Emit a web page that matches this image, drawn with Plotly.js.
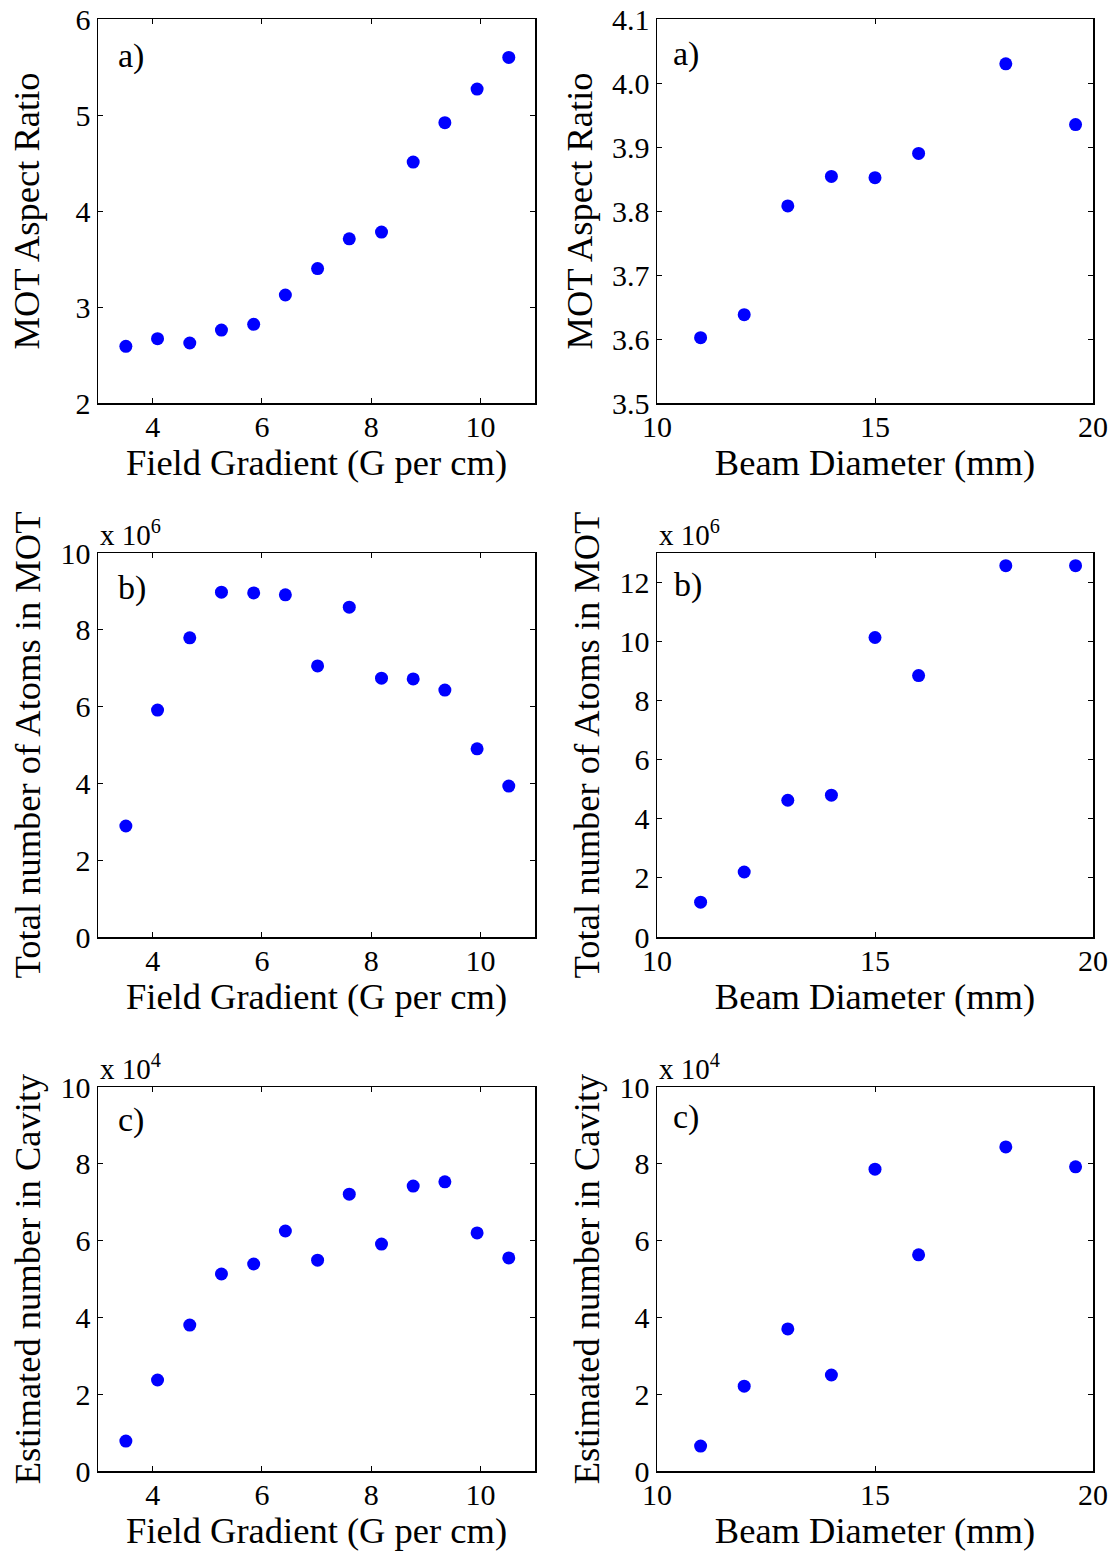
<!DOCTYPE html>
<html>
<head>
<meta charset="utf-8">
<script src="https://cdn.plot.ly/plotly-3.0.1.min.js"></script>
<style>html,body{margin:0;padding:0;background:#fff;}#chart{width:1117px;height:1552px;}</style>
</head>
<body>
<div id="chart"></div>
<script>
// Field gradient series (G per cm)
const fieldGradient = [3.51, 4.09, 4.68, 5.26, 5.85, 6.43, 7.02, 7.60, 8.19, 8.77, 9.35, 9.94, 10.52];
const aspectRatioVsGradient = [2.59, 2.67, 2.625, 2.76, 2.82, 3.125, 3.40, 3.71, 3.78, 4.51, 4.92, 5.27, 5.60];
const atomsMOTVsGradient_e6 = [2.89, 5.91, 7.79, 8.98, 8.96, 8.91, 7.06, 8.59, 6.74, 6.72, 6.43, 4.90, 3.93];
const cavityVsGradient_e4 = [0.78, 2.37, 3.80, 5.13, 5.39, 6.25, 5.49, 7.21, 5.91, 7.42, 7.53, 6.20, 5.55];

// Beam diameter series (mm)
const beamDiameter = [11, 12, 13, 14, 15, 16, 18, 19.6];
const aspectRatioVsBeam = [3.602, 3.638, 3.808, 3.854, 3.852, 3.890, 4.030, 3.935];
const atomsMOTVsBeam_e6 = [1.18, 2.20, 4.63, 4.80, 10.14, 8.85, 12.57, 12.57];
const cavityVsBeam_e4 = [0.65, 2.21, 3.70, 2.50, 7.86, 5.63, 8.44, 7.92];

// Labels
const xTitleLeft = "Field Gradient (G per cm)";
const xTitleRight = "Beam Diameter (mm)";
const yTitles = ["MOT Aspect Ratio", "Total number of Atoms in MOT", "Estimated number in Cavity"];
const panelLabels = ["a)", "b)", "c)"];
const multipliers = [null, "x 10<sup>6</sup>", "x 10<sup>4</sup>"];

const FONT = "Liberation Serif";
const W = 1117, H = 1552;
const colL = [98 / W, 535 / W];
const colR = [657 / W, 1093 / W];
const rows = [[19, 403], [553, 937], [1087, 1471]].map(r => [1 - r[1] / H, 1 - r[0] / H]);

const marker = {color: "#0000ff", size: 13};
const traces = [
  {x: fieldGradient, y: aspectRatioVsGradient, xaxis: "x", yaxis: "y"},
  {x: beamDiameter, y: aspectRatioVsBeam, xaxis: "x2", yaxis: "y2"},
  {x: fieldGradient, y: atomsMOTVsGradient_e6, xaxis: "x3", yaxis: "y3"},
  {x: beamDiameter, y: atomsMOTVsBeam_e6, xaxis: "x4", yaxis: "y4"},
  {x: fieldGradient, y: cavityVsGradient_e4, xaxis: "x5", yaxis: "y5"},
  {x: beamDiameter, y: cavityVsBeam_e4, xaxis: "x6", yaxis: "y6"}
].map(t => Object.assign(t, {type: "scatter", mode: "markers", marker: marker, showlegend: false, hoverinfo: "x+y"}));

const TICK = 30, TITLE = 36.5, LBL = 34, MULT = 29;

function axBase() {
  return {
    showline: true, linecolor: "#000", linewidth: 1.5, mirror: "allticks",
    ticks: "inside", ticklen: 5, tickwidth: 1, tickcolor: "#000",
    showgrid: false, zeroline: false,
    tickfont: {family: FONT, size: TICK, color: "#000"},
    automargin: false
  };
}

const layout = {
  width: W, height: H,
  margin: {l: 0, r: 0, t: 0, b: 0},
  paper_bgcolor: "#fff", plot_bgcolor: "#fff",
  font: {family: FONT, color: "#000"},
  annotations: []
};

const yRanges = [[[2, 6], 1, null], [[0, 10], 2, null], [[0, 10], 2, null]];
const yRangesR = [[[3.5, 4.1], 0.1, ".1f"], [[0, 13], 2, null], [[0, 10], 2, null]];
const yStandoffL = [24, 8, 8];
const yStandoffR = [8, 8, 8];

for (let r = 0; r < 3; r++) {
  const iL = 2 * r + 1, iR = 2 * r + 2;
  const kxL = iL === 1 ? "xaxis" : "xaxis" + iL;
  const kyL = iL === 1 ? "yaxis" : "yaxis" + iL;
  const kxR = "xaxis" + iR, kyR = "yaxis" + iR;
  const yL = iL === 1 ? "y" : "y" + iL;
  const yR = "y" + iR;

  layout[kxL] = Object.assign(axBase(), {domain: colL, range: [3, 11], tickvals: [4, 6, 8, 10], anchor: yL,
    ticklabelstandoff: -4,
    title: {text: xTitleLeft, font: {family: FONT, size: TITLE, color: "#000"}, standoff: 2}});
  layout[kxR] = Object.assign(axBase(), {domain: colR, range: [10, 20], dtick: 5, tick0: 10, anchor: yR,
    ticklabelstandoff: -4,
    title: {text: xTitleRight, font: {family: FONT, size: TITLE, color: "#000"}, standoff: 2}});
  const yl = yRanges[r], yr = yRangesR[r];
  layout[kyL] = Object.assign(axBase(), {domain: rows[r], range: yl[0], dtick: yl[1], tick0: 0,
    anchor: iL === 1 ? "x" : "x" + iL,
    title: {text: yTitles[r], font: {family: FONT, size: TITLE, color: "#000"}, standoff: yStandoffL[r]}});
  layout[kyR] = Object.assign(axBase(), {domain: rows[r], range: yr[0], dtick: yr[1], tick0: 0,
    anchor: "x" + iR,
    title: {text: yTitles[r], font: {family: FONT, size: TITLE, color: "#000"}, standoff: yStandoffR[r]}});
  if (yr[2]) layout[kyR].tickformat = yr[2];

  const axL = iL === 1 ? "x" : "x" + iL;
  const lblPos = [[0.041, 0.903, 0.032, 0.908], [0.041, 0.909, 0.034, 0.917], [0.041, 0.914, 0.032, 0.922]][r];
  layout.annotations.push(
    {xref: axL + " domain", yref: yL + " domain", x: lblPos[0], y: lblPos[1], xanchor: "left", yanchor: "middle",
     text: panelLabels[r], showarrow: false, font: {family: FONT, size: LBL, color: "#000"}},
    {xref: "x" + iR + " domain", yref: yR + " domain", x: lblPos[2], y: lblPos[3], xanchor: "left", yanchor: "middle",
     text: panelLabels[r], showarrow: false, font: {family: FONT, size: LBL, color: "#000"}}
  );
  if (multipliers[r]) {
    layout.annotations.push(
      {xref: axL + " domain", yref: yL + " domain", x: 0, y: 1, xanchor: "left", yanchor: "bottom", yshift: 0,
       text: multipliers[r], showarrow: false, font: {family: FONT, size: MULT, color: "#000"}},
      {xref: "x" + iR + " domain", yref: yR + " domain", x: 0, y: 1, xanchor: "left", yanchor: "bottom", yshift: 0,
       text: multipliers[r], showarrow: false, font: {family: FONT, size: MULT, color: "#000"}}
    );
  }
}

Plotly.newPlot("chart", traces, layout, {staticPlot: true, displayModeBar: false});
</script>
</body>
</html>
